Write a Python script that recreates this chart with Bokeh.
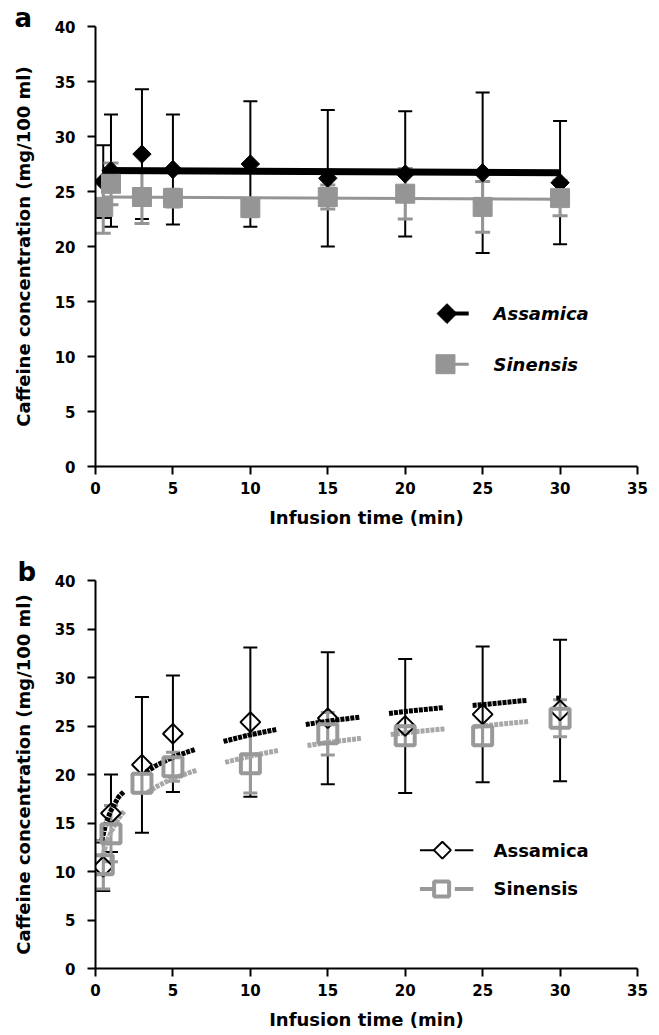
import numpy as np
from bokeh.plotting import figure
from bokeh.models import ColumnDataSource, Whisker, TeeHead, Title, FixedTicker
from bokeh.layouts import column
from bokeh.embed import file_html
from bokeh.resources import INLINE
from bokeh.core.properties import value

# ---------------- data ----------------
times = [0.5, 1, 3, 5, 10, 15, 20, 25, 30]

# panel a
assamica_a = [25.9, 26.9, 28.4, 27.0, 27.5, 26.2, 26.6, 26.7, 25.8]
assamica_a_err = [3.3, 5.1, 5.9, 5.0, 5.7, 6.2, 5.7, 7.3, 5.6]
sinensis_a = [23.6, 25.7, 24.5, 24.4, 23.5, 24.5, 24.8, 23.6, 24.4]
sinensis_a_err = [2.4, 1.9, 2.4, 0.8, 0.8, 1.1, 2.3, 2.3, 1.6]
fit_x_a = [0.5, 30]
assamica_fit_a = [26.9, 26.7]
sinensis_fit_a = [24.5, 24.3]

# panel b
assamica_b = [10.5, 16.0, 21.0, 24.2, 25.4, 25.8, 25.0, 26.2, 26.6]
assamica_b_err = [2.5, 4.0, 7.0, 6.0, 7.7, 6.8, 6.9, 7.0, 7.3]
sinensis_b = [10.7, 13.9, 19.1, 20.8, 21.1, 24.2, 24.0, 24.0, 25.8]
sinensis_b_err = [2.5, 2.9, 1.0, 1.5, 3.0, 2.2, 1.0, 1.0, 1.9]
trend_x_b = [0.4, 0.7, 1, 1.5, 2, 3, 4, 5, 7, 10, 12.5, 15, 17.5, 20, 22.5, 25, 27.5, 30]
assamica_trend_b = [13.2, 15.1, 16.3, 17.7, 18.5, 20.0, 21.0, 21.8, 22.9, 24.1, 24.9,
                    25.5, 26.0, 26.5, 26.9, 27.2, 27.6, 27.9]
sinensis_trend_b = [11.2, 12.9, 14.1, 15.5, 16.5, 17.8, 18.8, 19.6, 20.7, 21.9, 22.7,
                    23.3, 23.8, 24.3, 24.7, 25.0, 25.4, 25.7]

x_ticks = [0, 5, 10, 15, 20, 25, 30, 35]
y_ticks = [0, 5, 10, 15, 20, 25, 30, 35, 40]
series_names = ["Assamica", "Sinensis"]
panel_labels = ["a", "b"]
x_title = "Infusion time (min)"
y_title = "Caffeine concentration (mg/100 ml)"

FONT = "DejaVu Sans"
BLACK = "#000000"
GRAY_A = "#959595"
GRAY_B = "#999999"
GRAY_T = "#a8a8a8"


def style(p):
    for ax in (p.xaxis[0], p.yaxis[0]):
        ax.axis_line_width = 2
        ax.axis_line_color = BLACK
        ax.major_tick_line_width = 2
        ax.major_tick_line_color = BLACK
        ax.major_tick_out = 8
        ax.major_tick_in = 0
        ax.minor_tick_line_color = None
        ax.major_label_text_font = FONT
        ax.major_label_text_font_style = "bold"
        ax.major_label_text_font_size = "15px"
        ax.major_label_text_color = BLACK
        ax.axis_label_text_font = FONT
        ax.axis_label_text_font_style = "bold"
        ax.axis_label_text_font_size = "18px"
        ax.axis_label_text_color = BLACK
    p.xaxis[0].ticker = FixedTicker(ticks=x_ticks)
    p.yaxis[0].ticker = FixedTicker(ticks=y_ticks)
    p.xaxis[0].axis_label = x_title
    p.yaxis[0].axis_label = y_title
    p.xaxis[0].major_label_standoff = 7
    p.xaxis[0].axis_label_standoff = 10
    p.yaxis[0].major_label_standoff = 12
    p.yaxis[0].axis_label_standoff = 18
    p.grid.visible = False
    p.outline_line_color = None
    p.background_fill_color = "white"
    p.border_fill_color = "white"


def panel_title(p, text, offset, standoff):
    t = Title(text=text, align="left", offset=offset, standoff=standoff,
              text_font=FONT, text_font_style="bold", text_font_size="26px",
              text_color=BLACK)
    p.add_layout(t, "above")


def whiskers(p, x, y, err, color, lw, cap):
    src = ColumnDataSource(dict(x=x, lo=[a - b for a, b in zip(y, err)],
                                hi=[a + b for a, b in zip(y, err)]))
    w = Whisker(source=src, base="x", lower="lo", upper="hi",
                line_color=color, line_width=lw,
                upper_head=TeeHead(size=cap, line_color=color, line_width=lw),
                lower_head=TeeHead(size=cap, line_color=color, line_width=lw))
    p.add_layout(w)


# ---------------- panel a ----------------
pa = figure(width=656, height=530, x_range=(0, 35), y_range=(0, 40),
            output_backend="svg", toolbar_location=None,
            min_border_left=94, min_border_right=19, min_border_top=26, min_border_bottom=64)
style(pa)
panel_title(pa, panel_labels[0], -81, -13)

whiskers(pa, times, assamica_a, assamica_a_err, BLACK, 2, 14)
whiskers(pa, times, sinensis_a, sinensis_a_err, GRAY_A, 3, 15)
pa.line(fit_x_a, assamica_fit_a, line_color=BLACK, line_width=7)
pa.line(fit_x_a, sinensis_fit_a, line_color=GRAY_A, line_width=3)
pa.scatter(times, assamica_a, marker="square", angle=np.pi / 4, size=13,
           fill_color=BLACK, line_color=BLACK)
pa.scatter(times, sinensis_a, marker="square", size=19,
           fill_color=GRAY_A, line_color=GRAY_A)

# legend a
pa.line([22.3, 24.1], [13.9, 13.9], line_color=BLACK, line_width=4)
pa.scatter([22.7], [13.9], marker="square", angle=np.pi / 4, size=14,
           fill_color=BLACK, line_color=BLACK)
pa.line([22.3, 24.1], [9.3, 9.3], line_color=GRAY_A, line_width=3)
pa.scatter([22.6], [9.3], marker="square", size=19, fill_color=GRAY_A, line_color=GRAY_A)
pa.text(x=[25.7, 25.7], y=[13.9, 9.3], text=series_names,
        text_font=value(FONT), text_font_style="bold italic", text_font_size="18px",
        text_baseline="middle", text_align="left", text_color=BLACK)

# ---------------- panel b ----------------
pb = figure(width=656, height=502, x_range=(0, 35), y_range=(0, 40),
            output_backend="svg", toolbar_location=None,
            min_border_left=95, min_border_right=11, min_border_top=50, min_border_bottom=64)
style(pb)
panel_title(pb, panel_labels[1], -78, -12)

whiskers(pb, times, assamica_b, assamica_b_err, BLACK, 2, 14)
whiskers(pb, times, sinensis_b, sinensis_b_err, GRAY_B, 3, 14)

dash = " ".join(["4 1"] * 10 + ["4 30"])
pb.line(trend_x_b, assamica_trend_b, line_color=BLACK, line_width=5, line_dash=dash)
pb.line(trend_x_b, sinensis_trend_b, line_color=GRAY_T, line_width=5, line_dash=dash)
pb.scatter(times, assamica_b, marker="square", angle=np.pi / 4, size=14,
           fill_color=None, line_color=BLACK, line_width=2)
pb.scatter(times, sinensis_b, marker="square", size=19,
           fill_color=None, line_color=GRAY_B, line_width=4)

# legend b
for xs in ([20.95, 22.0], [23.2, 24.4]):
    pb.line(xs, [12.2, 12.2], line_color=BLACK, line_width=2)
    pb.line(xs, [8.2, 8.2], line_color=GRAY_B, line_width=4)
pb.scatter([22.4], [12.2], marker="square", angle=np.pi / 4, size=12,
           fill_color="white", line_color=BLACK, line_width=2)
pb.scatter([22.35], [8.2], marker="square", size=15,
           fill_color="white", line_color=GRAY_B, line_width=4)
pb.text(x=[25.7, 25.7], y=[12.2, 8.2], text=series_names,
        text_font=value(FONT), text_font_style="bold", text_font_size="18px",
        text_baseline="middle", text_align="left", text_color=BLACK)

layout = column(pa, pb, spacing=0)
open("out.html", "w").write(file_html(layout, INLINE))
